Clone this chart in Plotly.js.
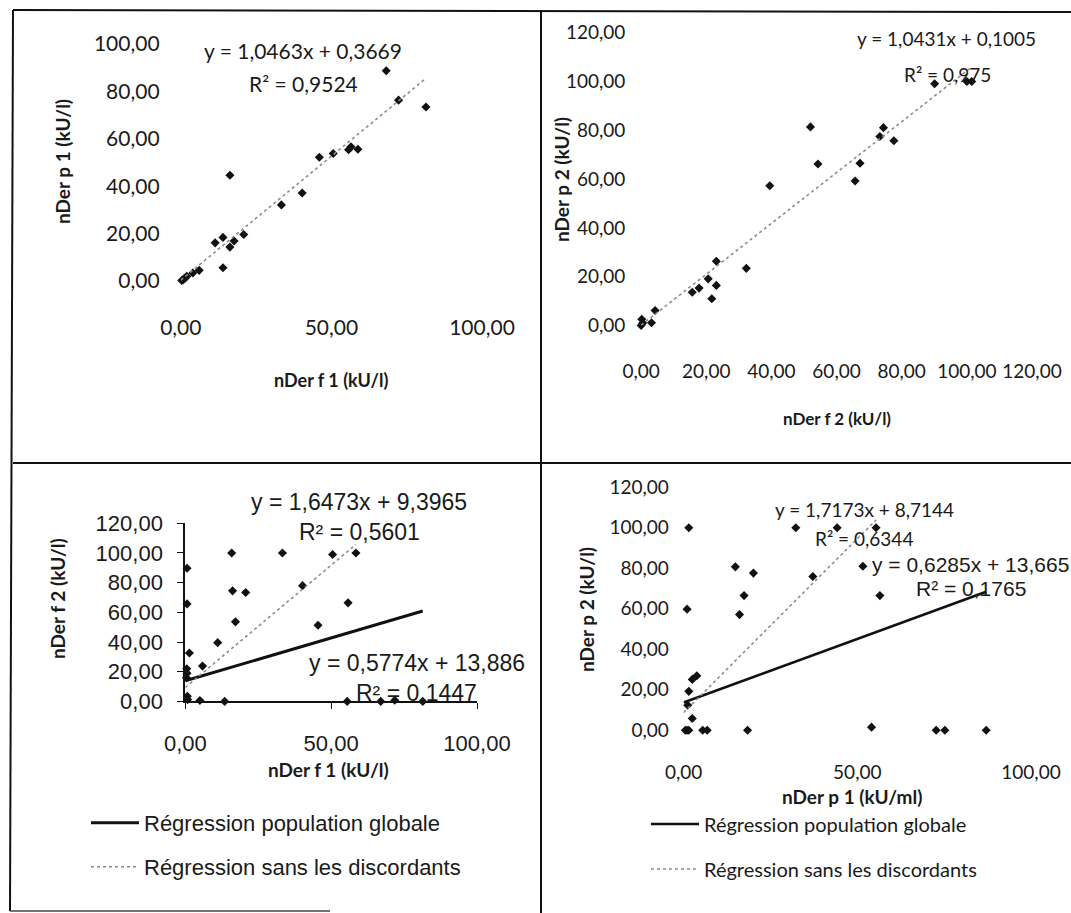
<!DOCTYPE html>
<html><head><meta charset="utf-8">
<script src="https://cdn.plot.ly/plotly-3.0.1.min.js"></script>
<style>body{margin:0;background:#fff}</style>
</head><body><div id="chart" style="width:1071px;height:913px"></div>
<script>
// ---------- data ----------
// Panel 1 : nDer f 1 (x) vs nDer p 1 (y)
const p1x = [68.2, 72.3, 81.4, 55.7, 56.5, 58.8, 50.6, 46.0, 40.3, 33.4, 16.3, 20.9, 11.4, 14.0, 16.3, 17.7, 14.0, 6.1, 4.0, 0.3, 0.8, 1.2, 1.6, 2.0];
const p1y = [88.7, 76.3, 73.4, 55.4, 56.6, 55.6, 53.8, 52.2, 37.1, 32.1, 44.6, 19.6, 16.1, 18.4, 14.3, 16.9, 5.6, 4.5, 3.4, 0.2, 0.5, 1.0, 1.5, 2.0];
// Panel 2 : nDer f 2 (x) vs nDer p 2 (y)
const p2x = [0.0, 0.2, 0.5, 3.2, 4.3, 15.7, 17.8, 20.6, 21.7, 23.1, 23.1, 32.3, 39.5, 52.0, 54.3, 65.7, 67.2, 73.3, 74.4, 77.6, 90.1, 100.0, 101.5];
const p2y = [0.0, 2.5, 1.0, 1.1, 6.1, 13.6, 15.3, 19.1, 10.9, 16.4, 26.3, 23.4, 57.3, 81.4, 66.2, 59.2, 66.5, 77.5, 81.1, 75.7, 99.1, 100.0, 100.0];
// Panel 3 : nDer f 1 (x) vs nDer f 2 (y)
const p3x = [15.9, 33.3, 50.5, 58.5, 0.6, 0.6, 16.2, 20.7, 40.2, 55.8, 17.2, 45.5, 11.1, 1.4, 5.9, 0.5, 0.4, 0.6, 0.7, 0.8, 5.0, 13.5, 55.5, 67.0, 71.8, 81.4];
const p3y = [100, 100, 99, 100, 89.7, 65.7, 74.5, 73.4, 78.0, 66.4, 53.6, 51.3, 39.6, 32.6, 23.8, 22.0, 16.0, 19.0, 3.5, 1.2, 0.6, 0, 0, 0, 0.8, 0];
// Panel 4 : nDer p 1 (x) vs nDer p 2 (y)
const p4x = [1.5, 32.3, 44.2, 55.4, 14.9, 20.1, 37.2, 51.6, 17.4, 56.5, 1.0, 16.1, 3.8, 2.5, 1.5, 1.2, 2.5, 0.5, 1.0, 1.5, 5.5, 6.8, 18.4, 54.1, 72.7, 75.2, 87.1];
const p4y = [100, 100, 100, 100, 80.7, 77.6, 75.9, 81.0, 66.5, 66.5, 59.8, 57.1, 26.9, 25.1, 19.2, 12.3, 5.8, 0, 0, 0, 0, 0, 0, 1.5, 0, 0, 0];

// Trendlines: [slope, intercept], x extent [min, max]
const trend1 = [1.0463, 0.3669],  trend1X = [0, 81.4];
const trend2 = [1.0431, 0.1005],  trend2X = [0, 101.5];
const trend3g = [0.5774, 13.886], trend3gX = [0, 81.4];
const trend3s = [1.6473, 9.3965], trend3sX = [0, 58.5];
const trend4g = [0.6285, 13.665], trend4gX = [0, 87.1];
const trend4s = [1.7173, 8.7144], trend4sX = [0, 55.4];

const eqText = {
  p1: ['y = 1,0463x + 0,3669', 'R² = 0,9524'],
  p2: ['y = 1,0431x + 0,1005', 'R² = 0,975'],
  p3s: ['y = 1,6473x + 9,3965', 'R² = 0,5601'],
  p3g: ['y = 0,5774x + 13,886', 'R² = 0,1447'],
  p4s: ['y = 1,7173x + 8,7144', 'R² = 0,6344'],
  p4g: ['y = 0,6285x + 13,665', 'R² = 0,1765']
};
const legendNames = ['Régression population globale', 'Régression sans les discordants'];

// ---------- helpers ----------
const W = 1071, H = 913;
const fx = p => p / W, fy = p => 1 - p / H;
const line = (c, xr) => ({x: xr, y: xr.map(v => c[0] * v + c[1])});
const CAL = 'Lato, "Open Sans", sans-serif';
const ARI = '"Liberation Sans", Arial, sans-serif';
const mk = {symbol: 'diamond', size: 7, color: '#111'};
const dotGrey = {color: '#8c8c8c', width: 1.6, dash: 'dot'};
const solidBlack = {color: '#111', width: 3};

const traces = [
  {x: p1x, y: p1y, xaxis: 'x', yaxis: 'y', mode: 'markers', marker: mk, showlegend: false, cliponaxis: false},
  Object.assign(line(trend1, trend1X), {xaxis: 'x', yaxis: 'y', mode: 'lines', line: dotGrey, showlegend: false}),
  {x: p2x, y: p2y, xaxis: 'x2', yaxis: 'y2', mode: 'markers', marker: mk, showlegend: false, cliponaxis: false},
  Object.assign(line(trend2, trend2X), {xaxis: 'x2', yaxis: 'y2', mode: 'lines', line: dotGrey, showlegend: false}),
  {x: p3x, y: p3y, xaxis: 'x3', yaxis: 'y3', mode: 'markers', marker: mk, showlegend: false, cliponaxis: false},
  Object.assign(line(trend3g, trend3gX), {xaxis: 'x3', yaxis: 'y3', mode: 'lines', line: solidBlack, name: legendNames[0], legend: 'legend'}),
  Object.assign(line(trend3s, trend3sX), {xaxis: 'x3', yaxis: 'y3', mode: 'lines', line: dotGrey, name: legendNames[1], legend: 'legend2'}),
  {x: p4x, y: p4y, xaxis: 'x4', yaxis: 'y4', mode: 'markers', marker: mk, showlegend: false, cliponaxis: false},
  Object.assign(line(trend4g, trend4gX), {xaxis: 'x4', yaxis: 'y4', mode: 'lines', line: {color: '#111', width: 2.6}, name: legendNames[0], legend: 'legend3'}),
  Object.assign(line(trend4s, trend4sX), {xaxis: 'x4', yaxis: 'y4', mode: 'lines', line: dotGrey, name: legendNames[1], legend: 'legend4'})
];

function ax(dom, range, dtick, font, standoff, extra) {
  return Object.assign({
    domain: dom, range: range, dtick: dtick, tick0: 0, tickformat: '.2f',
    showgrid: false, zeroline: false, showline: false,
    ticks: 'outside', ticklen: standoff, tickcolor: 'rgba(0,0,0,0)',
    tickfont: font, fixedrange: true
  }, extra || {});
}
const f1 = {family: CAL, size: 21, color: '#1a1a1a'};
const f2 = {family: CAL, size: 19, color: '#1a1a1a'};
const f3 = {family: ARI, size: 22, color: '#1a1a1a'};
const f4 = {family: CAL, size: 19, color: '#1a1a1a'};
const p3line = {showline: true, linecolor: '#111', linewidth: 2, tickcolor: '#111', ticklen: 6, ticklabelstandoff: 10};

function ann(text, x, y, font, rot) {
  return {text: text, x: fx(x), y: fy(y), xref: 'paper', yref: 'paper', showarrow: false,
          xanchor: 'center', yanchor: 'middle', font: font, textangle: rot || 0};
}
const tBold = (s, fam) => ({family: fam || CAL, size: s, color: '#1a1a1a', weight: 'bold'});
const tReg = (s, fam) => ({family: fam || CAL, size: s, color: '#1a1a1a'});

const annotations = [
  ann('nDer p 1 (kU/l)', 62, 162, tBold(19), -90),
  ann('nDer f 1 (kU/l)', 331, 380, tBold(18)),
  ann(eqText.p1[0], 303, 51, tReg(21)),
  ann(eqText.p1[1], 303, 83, tReg(21)),

  ann('nDer p 2 (kU/l)', 562, 180, tBold(19), -90),
  ann('nDer f 2 (kU/l)', 837, 419, tBold(17)),
  ann(eqText.p2[0], 946, 39, tReg(19)),
  ann(eqText.p2[1], 947, 74, tReg(19)),

  ann('nDer f 2 (kU/l)', 57, 599, tBold(19), -90),
  ann('nDer f 1 (kU/l)', 328, 769, tBold(19)),
  ann(eqText.p3s[0], 359, 502, tReg(23, ARI)),
  ann(eqText.p3s[1], 359, 532, tReg(23, ARI)),
  ann(eqText.p3g[0], 417, 663, tReg(23, ARI)),
  ann(eqText.p3g[1], 416, 693, tReg(23, ARI)),

  ann('nDer p 2 (kU/l)', 586, 610, tBold(19), -90),
  ann('nDer p 1 (kU/ml)', 852, 796, tBold(19)),
  ann(eqText.p4s[0], 864, 509, tReg(19)),
  ann(eqText.p4s[1], 864, 538, tReg(19)),
  ann(eqText.p4g[0], 970, 564, tReg(21, ARI)),
  ann(eqText.p4g[1], 971, 588, tReg(21, ARI))
];

function seg(x0, y0, x1, y1, w, c) {
  return {type: 'line', xref: 'paper', yref: 'paper', x0: fx(x0), y0: fy(y0), x1: fx(x1), y1: fy(y1),
          line: {color: c || '#111', width: w || 2}};
}
const shapes = [
  seg(13, 10, 1071, 12),
  seg(13, 10, 10, 911),
  seg(541, 10, 541, 913),
  seg(13, 463, 1071, 463),
  seg(10, 911, 330, 911, 1.5, '#444')
];

function leg(x, y, font) {
  return {x: fx(x), y: fy(y), xref: 'paper', yref: 'paper', xanchor: 'left', yanchor: 'middle',
          bgcolor: 'rgba(0,0,0,0)', borderwidth: 0, font: font, itemwidth: 48};
}

const layout = {
  width: W, height: H, margin: {l: 0, r: 0, t: 0, b: 0},
  paper_bgcolor: '#fff', plot_bgcolor: 'rgba(0,0,0,0)',
  separators: ', ', showlegend: true,
  xaxis:  ax([fx(180.8), fx(482)], [0, 100], 50, f1, 28, {anchor: 'y'}),
  yaxis:  ax([fy(281), fy(44)], [0, 100], 20, f1, 16, {anchor: 'x'}),
  xaxis2: ax([fx(641.1), fx(1032)], [0, 120], 20, f2, 29, {anchor: 'y2'}),
  yaxis2: ax([fy(325.4), fy(32.8)], [0, 120], 20, f2, 11, {anchor: 'x2'}),
  xaxis3: ax([fx(185.3), fx(477)], [0, 100], 50, f3, 6, Object.assign({anchor: 'y3'}, p3line, {ticklabelstandoff: 15})),
  yaxis3: ax([fy(701.4), fy(523.3)], [0, 120], 20, f3, 6, Object.assign({anchor: 'x3'}, p3line)),
  xaxis4: ax([fx(683.6), fx(1031)], [0, 100], 50, f4, 25, {anchor: 'y4'}),
  yaxis4: ax([fy(730.2), fy(487.3)], [0, 120], 20, f4, 10, {anchor: 'x4'}),
  legend:  leg(86, 823, {family: ARI, size: 22, color: '#1a1a1a'}),
  legend2: leg(86, 867, {family: ARI, size: 22, color: '#1a1a1a'}),
  legend3: leg(646, 824, {family: CAL, size: 20, color: '#1a1a1a'}),
  legend4: leg(646, 869, {family: CAL, size: 20, color: '#1a1a1a'}),
  annotations: annotations,
  shapes: shapes
};

Plotly.newPlot('chart', traces, layout, {displayModeBar: false, staticPlot: true});
</script></body></html>
